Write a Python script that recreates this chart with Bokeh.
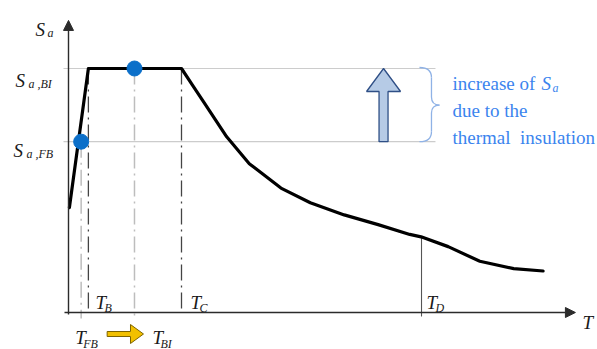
from bokeh.plotting import figure
from bokeh.models import Range1d, Arrow, NormalHead
from bokeh.core.properties import value
from bokeh.embed import file_html
from bokeh.resources import INLINE

# ---------------- data ----------------
curve_T = [0.004, 0.088, 0.50, 0.55, 0.60, 0.70, 0.80, 0.94, 1.07, 1.22, 1.37, 1.51, 1.56, 1.68, 1.82, 1.97, 2.10]
curve_Sa = [0.43, 1.00, 1.00, 0.93, 0.86, 0.72, 0.61, 0.51, 0.45, 0.40, 0.36, 0.32, 0.31, 0.27, 0.21, 0.18, 0.17]

T_FB, T_B, T_BI, T_C, T_D = 0.056, 0.088, 0.292, 0.50, 1.562
Sa_FB, Sa_BI = 0.70, 1.00
Sa_TD = 0.31
T_axis_end = 2.243
Sa_axis_end = 1.197
arrow_T = 1.394          # position of the blue "increase" arrow
note_T = 1.699           # position of the annotation text
note_lines = ["increase of", "due to the", "thermal\u00a0 insulation"]

# ---------------- layout ----------------
W, H = 597, 349
PX_X, PX_Y = 226.0, 244.0      # pixels per data unit
X0, Y0 = 68, 312               # origin position inside the figure (px)

def ux(px):
    return px / PX_X

def uy(px):
    return px / PX_Y

FONT = value("Liberation Serif")
AX = "#2b2b2b"
BLUE_TXT = "#3b84ee"

p = figure(width=W, height=H, output_backend="svg", toolbar_location=None,
           x_range=Range1d(-X0 / PX_X, (W - X0) / PX_X),
           y_range=Range1d(-(H - Y0) / PX_Y, Y0 / PX_Y),
           x_axis_type=None, y_axis_type=None, min_border=0,
           outline_line_color=None, background_fill_color="white",
           border_fill_color="white")
p.grid.visible = False

# horizontal reference lines
for lvl in (Sa_BI, Sa_FB):
    p.segment(x0=[-ux(5)], y0=[lvl], x1=[note_T - ux(17)], y1=[lvl],
              line_color="#cccccc", line_width=1.2)

# vertical dash-dot lines
dash = "16 5 2 5"
p.segment(x0=[T_FB, T_BI], y0=[Sa_FB, Sa_BI], x1=[T_FB, T_BI], y1=[-uy(6), -uy(6)],
          line_color="#bdbdbd", line_width=1.5, line_dash=dash)
p.segment(x0=[T_B, T_C], y0=[Sa_BI, Sa_BI], x1=[T_B, T_C], y1=[0, 0],
          line_color="#444444", line_width=1.3, line_dash=dash)
p.segment(x0=[T_D], y0=[Sa_TD], x1=[T_D], y1=[-uy(4)],
          line_color="#555555", line_width=1.1)

# axes with arrow heads
p.add_layout(Arrow(end=NormalHead(size=10, fill_color=AX, line_color=AX, line_width=1),
                   x_start=0, y_start=-uy(2), x_end=0, y_end=Sa_axis_end,
                   line_color=AX, line_width=1.4))
p.add_layout(Arrow(end=NormalHead(size=10, fill_color=AX, line_color=AX, line_width=1),
                   x_start=-ux(4), y_start=0, x_end=T_axis_end, y_end=0,
                   line_color=AX, line_width=1.4))

# spectrum curve
p.line(curve_T, curve_Sa, line_color="black", line_width=3.2, line_join="round", line_cap="round")

# points
p.scatter(x=[T_FB, T_BI], y=[Sa_FB, Sa_BI], size=15, fill_color="#0b6fc9", line_color="#0b6fc9")

# blue block arrow (Sa_FB -> Sa_BI)
hw, sw, hl = ux(17), ux(4.5), uy(23)
ax_x = [arrow_T - sw, arrow_T - sw, arrow_T - hw, arrow_T, arrow_T + hw, arrow_T + sw, arrow_T + sw]
ax_y = [Sa_FB, Sa_BI - hl, Sa_BI - hl, Sa_BI, Sa_BI - hl, Sa_BI - hl, Sa_FB]
p.patch(ax_x, ax_y, fill_color="#b6cbe6", line_color="#2f4f86", line_width=1.3)

# brace
bx_end, bx_v, bx_tip = note_T - ux(33), note_T - ux(21), note_T - ux(13)
mid = (Sa_BI + Sa_FB) / 2
top, bot = Sa_BI + uy(1), Sa_FB
bc = "#8fb2e6"
p.quadratic(x0=[bx_end, bx_v, bx_tip, bx_v], y0=[top, mid + uy(8), mid, bot + uy(10)],
            x1=[bx_v, bx_tip, bx_v, bx_end], y1=[top - uy(10), mid, mid - uy(8), bot],
            cx=[bx_v, bx_v, bx_v, bx_v], cy=[top, mid, mid, bot],
            line_color=bc, line_width=1.3)
p.segment(x0=[bx_v, bx_v], y0=[top - uy(10), mid - uy(8)], x1=[bx_v, bx_v], y1=[mid + uy(8), bot + uy(10)],
          line_color=bc, line_width=1.3)

# gold arrow between T_FB and T_BI
g0, gt = T_FB + ux(26), T_BI + ux(9)
gh = gt - ux(13)
gy = -uy(21.5)
p.patch([g0, gh, gh, gt, gh, gh, g0],
        [gy + uy(2.5), gy + uy(2.5), gy + uy(9.5), gy, gy - uy(9.5), gy - uy(2.5), gy - uy(2.5)],
        fill_color="#f2c000", line_color="#7d6300", line_width=1)


def label(x, y, main, sub, mdx, mdy, sdx, sdy, color="#1a1a1a", size=19, sub_size=12):
    p.text(x=[x], y=[y], text=[main], x_offset=mdx, y_offset=mdy, text_font=FONT,
           text_font_style="italic", text_font_size=f"{size}px", text_color=color,
           text_align="left", text_baseline="alphabetic")
    if sub:
        p.text(x=[x], y=[y], text=[sub], x_offset=sdx, y_offset=sdy, text_font=FONT,
               text_font_style="italic", text_font_size=f"{sub_size}px", text_color=color,
               text_align="left", text_baseline="alphabetic")


# axis labels
label(0, Sa_axis_end, "S", "a", -33, 9, -21, 13)
label(T_axis_end, 0, "T", "", 7, 10, 0, 0)
label(0, Sa_BI, "S", "a ,BI", -53, 12, -40, 15)
label(0, Sa_FB, "S", "a ,FB", -55, 9, -42, 12)
label(T_B, 0, "T", "B", 7, -10, 16, -5)
label(T_C, 0, "T", "C", 9, -10, 18, -5)
label(T_D, 0, "T", "D", 5, -10, 14, -5)
label(T_FB, 0, "T", "FB", -6, 25, 2, 31)
label(T_BI, 0, "T", "BI", 18, 25, 26, 31)

# annotation text
for i, line in enumerate(note_lines):
    p.text(x=[note_T], y=[Sa_BI], text=[line], x_offset=0, y_offset=15 + 27 * i,
           text_font=FONT, text_font_size="19px", text_color=BLUE_TXT,
           text_align="left", text_baseline="alphabetic")
label(note_T, Sa_BI, "S", "a", 89, 15, 100, 19, color=BLUE_TXT, size=19)

open("out.html", "w").write(file_html(p, INLINE))
